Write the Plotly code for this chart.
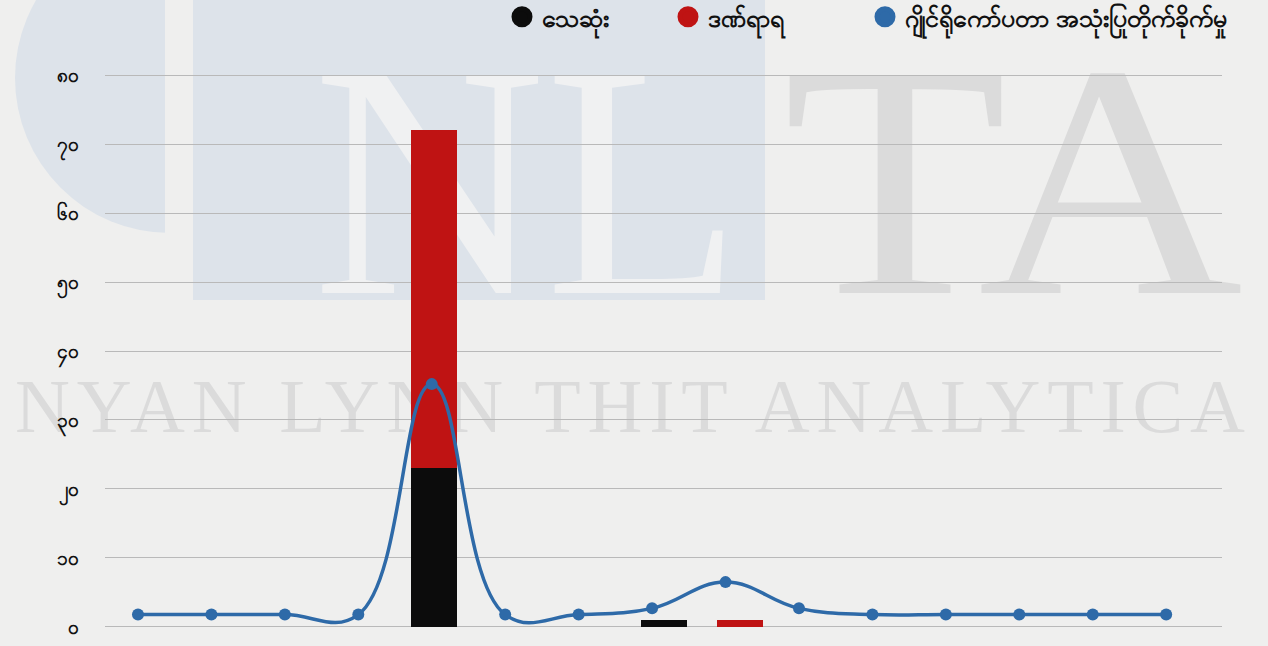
import base64
import plotly.graph_objects as go

# y axis ticks, Myanmar numerals
tick_vals = [0, 10, 20, 30, 40, 50, 60, 70, 80]
tick_text = ["၀", "၁၀", "၂၀", "၃၀", "၄၀", "၅၀", "၆၀", "၇၀", "၈၀"]

# gyrocopter attacks (line)
line_x = list(range(15))
line_y = [1.8, 1.8, 1.8, 1.8, 35.2, 1.8, 1.8, 2.7, 6.5, 2.7, 1.8, 1.8, 1.8, 1.8, 1.8]

# casualties (stacked bars, own category axis)
bar_x = list(range(14))
killed = [0, 0, 0, 0, 23, 0, 0, 1, 0, 0, 0, 0, 0, 0]
injured = [0, 0, 0, 0, 49, 0, 0, 0, 1, 0, 0, 0, 0, 0]

names = ["သေဆုံး", "ဒဏ်ရာရ", "ဂျိုင်ရိုကော်ပတာ အသုံးပြုတိုက်ခိုက်မှု"]
colors = ["#0c0c0c", "#bf1313", "#2e6aa8"]
legend_widths = [121, 152, None]

W, H = 1268, 646
M = dict(l=105, r=46, t=74, b=18, autoexpand=False)
pw = W - M["l"] - M["r"]
ph = H - M["t"] - M["b"]

# watermark background (logo + agency name)
svg = f'''<svg xmlns="http://www.w3.org/2000/svg" width="{W}" height="{H}">
<rect width="100%" height="100%" fill="#efefee"/>
<circle cx="170" cy="78" r="155" fill="#dde3ea"/>
<rect x="193" y="-5" width="572" height="305" fill="#dde3ea"/>
<rect x="165" y="-5" width="28" height="240" fill="#efefee"/>
<text x="313" y="293" font-family="Liberation Serif" font-size="333" fill="#f0f1f2" textLength="429" lengthAdjust="spacingAndGlyphs">NL</text>
<text x="783" y="293" font-family="Liberation Serif" font-size="333" fill="#dbdbdb" textLength="460" lengthAdjust="spacingAndGlyphs">TA</text>
<text x="15" y="432" font-family="Liberation Serif" font-size="76" fill="#dbdbdb" textLength="1230" lengthAdjust="spacing">NYAN LYNN THIT ANALYTICA</text>
</svg>'''
bg = "data:image/svg+xml;base64," + base64.b64encode(svg.encode("utf-8")).decode()

fig = go.Figure()

fig.add_trace(go.Bar(x=bar_x, y=killed, marker_color=colors[0], marker_line_width=0,
                     width=0.6, showlegend=False, name=names[0]))
fig.add_trace(go.Bar(x=bar_x, y=injured, marker_color=colors[1], marker_line_width=0,
                     width=0.6, showlegend=False, name=names[1]))
# line sits on the overlaying axis so it is drawn above the bars
fig.add_trace(go.Scatter(x=line_x, y=line_y, mode="lines+markers", xaxis="x2",
                         line=dict(color=colors[2], width=3.5, shape="spline", smoothing=1.2),
                         marker=dict(size=12, color=colors[2]),
                         showlegend=False, name=names[2]))

# legend entries drawn as circles
for n, c, lw in zip(names, colors, legend_widths):
    fig.add_trace(go.Scatter(x=[None], y=[None], mode="markers", name=n, legendwidth=lw,
                             marker=dict(size=16, color=c, symbol="circle",
                                         line=dict(color=c, width=5))))

fig.update_layout(
    width=W, height=H,
    margin=M,
    barmode="stack",
    paper_bgcolor="#efefee",
    plot_bgcolor="rgba(0,0,0,0)",
    font=dict(family="Noto Sans", color="#111111"),
    legend=dict(orientation="h", traceorder="normal",
                x=(502 - M["l"]) / pw, xanchor="left",
                y=1 + (M["t"] + 6) / ph, yanchor="top",
                font=dict(size=25, color="#111111", weight="bold"),
                bgcolor="rgba(0,0,0,0)", itemsizing="trace"),
    xaxis=dict(range=[-0.295, 14.29], showticklabels=False, showgrid=False,
               zeroline=False, fixedrange=True),
    xaxis2=dict(range=[-0.449, 14.76], overlaying="x", showticklabels=False,
                showgrid=False, zeroline=False, visible=False),
    yaxis=dict(range=[-0.15, 80.15], tickvals=tick_vals, ticktext=tick_text,
               showgrid=True, gridcolor="#b9b9b9", gridwidth=1, zeroline=False,
               ticklabelstandoff=25,
               tickfont=dict(size=19, color="#111111", weight="bold")),
    images=[dict(source=bg, xref="paper", yref="paper",
                 x=-M["l"] / pw, y=1 + M["t"] / ph,
                 sizex=W / pw, sizey=H / ph, sizing="stretch",
                 xanchor="left", yanchor="top", layer="below")],
)

fig.write_html("out.html", config={"displayModeBar": False},
               post_script="document.body.style.margin='0';")
